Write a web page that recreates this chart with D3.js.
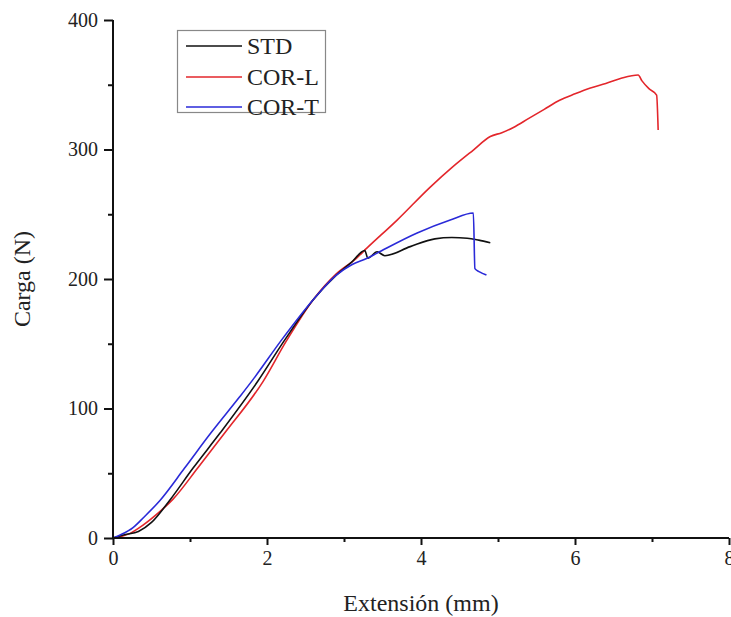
<!DOCTYPE html>
<html>
<head>
<meta charset="utf-8">
<script src="https://cdn.jsdelivr.net/npm/d3@7"></script>
<style>
  html, body { margin: 0; padding: 0; background: #fff; }
  svg { display: block; }
  text { font-family: "Liberation Serif", "Times New Roman", serif; fill: #222; }
</style>
</head>
<body>
<svg id="chart" width="731" height="617"></svg>
<script>
// ---- data (Extensión mm, Carga N) ----
const seriesNames = ["STD", "COR-L", "COR-T"];
const seriesColors = ["#111111", "#e3262b", "#2a2ad8"];

const stdData = [
  [0,0],[0.15,2.5],[0.33,5],[0.5,12],[0.735,29],[1.04,54],[1.39,81],
  [1.88,121],[2.22,152],[2.6,184],[2.9,203],[3.1,213],[3.27,222],[3.31,216],
  [3.43,221],[3.53,218],[3.86,225],[4.18,231],[4.4,232],[4.6,231.5],[4.75,230],[4.9,228]
];
const corLData = [
  [0,0],[0.2,3],[0.39,10],[0.6,20],[0.78,30],[1.1,54],[1.45,81],
  [1.95,121],[2.25,152],[2.6,184],[2.9,204],[3.16,216],[3.3,224],[3.69,245.5],
  [4.12,271],[4.4,286],[4.68,299.6],[4.9,310],[5.05,313],[5.2,317],[5.4,324],
  [5.6,331],[5.8,338],[6.0,343],[6.2,347.5],[6.4,351],[6.6,355],[6.82,357.5],
  [6.87,353],[6.96,347],[7.06,342],[7.08,315]
];
const corTData = [
  [0,0],[0.1,2.5],[0.26,8],[0.4,16],[0.61,29],[0.93,54],[1.27,81],
  [1.645,109],[1.82,122.5],[2.19,153],[2.6,184],[2.9,203],[3.1,211],[3.3,216],
  [3.43,220],[3.95,235.5],[4.38,245.5],[4.68,251],[4.7,208],[4.76,205.5],[4.85,203]
];
const xTicks = [0, 2, 4, 6, 8];
const xMinorTicks = [1, 3, 5, 7];
const yTicks = [0, 100, 200, 300, 400];
const yMinorTicks = [50, 150, 250, 350];

// ---- layout ----
const svg = d3.select("#chart");
const x = d3.scaleLinear().domain([0, 8]).range([113, 729]);
const y = d3.scaleLinear().domain([0, 400]).range([538, 20]);

// curves
const line = d3.line().x(d => x(d[0])).y(d => y(d[1])).curve(d3.curveMonotoneX);
const allData = [stdData, corLData, corTData];
[1, 0, 2].forEach(i => {
  svg.append("path")
    .datum(allData[i])
    .attr("d", line)
    .attr("fill", "none")
    .attr("stroke", seriesColors[i])
    .attr("stroke-width", 1.6)
    .attr("stroke-linejoin", "round");
});

// axes
const xAxis = d3.axisBottom(x).tickValues(xTicks).tickSize(7).tickPadding(6).tickFormat(d3.format("d"));
const xAxisMinor = d3.axisBottom(x).tickValues(xMinorTicks).tickSize(4).tickFormat("");
const yAxis = d3.axisLeft(y).tickValues(yTicks).tickSize(9).tickPadding(6).tickFormat(d3.format("d"));
const yAxisMinor = d3.axisLeft(y).tickValues(yMinorTicks).tickSize(5).tickFormat("");

function styleAxis(g) {
  g.select(".domain").attr("stroke", "#111").attr("stroke-width", 2);
  g.selectAll(".tick line").attr("stroke", "#111").attr("stroke-width", 2);
  g.selectAll(".tick text").attr("font-size", 20).attr("fill", "#222")
    .style("font-family", '"Liberation Serif", serif');
}
svg.append("g").attr("transform", "translate(0,538)").call(xAxisMinor).call(styleAxis)
  .select(".domain").remove();
svg.append("g").attr("transform", "translate(113,0)").call(yAxisMinor).call(styleAxis)
  .select(".domain").remove();
svg.append("g").attr("transform", "translate(0,538)").call(xAxis).call(styleAxis)
  .call(g => g.select(".domain").attr("d", "M113,0H729"));
svg.append("g").attr("transform", "translate(113,0)").call(yAxis).call(styleAxis)
  .call(g => g.select(".domain").attr("d", "M0,538V20"));

// axis titles
svg.append("text")
  .attr("x", 421).attr("y", 611)
  .attr("text-anchor", "middle")
  .attr("font-size", 24)
  .text("Extensión (mm)");
svg.append("text")
  .attr("transform", "translate(30,279) rotate(-90)")
  .attr("text-anchor", "middle")
  .attr("font-size", 24)
  .text("Carga (N)");

// legend
const lg = svg.append("g");
lg.append("rect")
  .attr("x", 177.5).attr("y", 30.5).attr("width", 148).attr("height", 82)
  .attr("fill", "#fff").attr("stroke", "#888").attr("stroke-width", 1.2);
const rowY = [46, 77, 107];
seriesNames.forEach((name, i) => {
  lg.append("line")
    .attr("x1", 186).attr("x2", 242).attr("y1", rowY[i]).attr("y2", rowY[i])
    .attr("stroke", seriesColors[i]).attr("stroke-width", 1.6);
  lg.append("text")
    .attr("x", 247).attr("y", rowY[i] + 8)
    .attr("font-size", 24)
    .text(name);
});
</script>
</body>
</html>
